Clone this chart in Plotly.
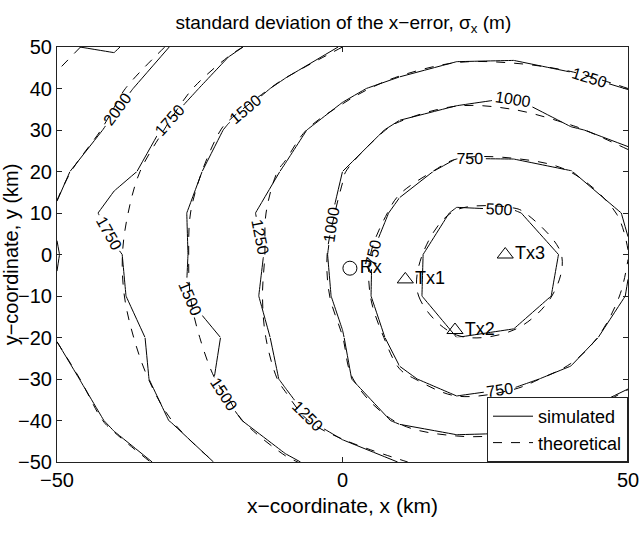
import plotly.graph_objects as go

# grid (km)
x_km = [-50, -40, -30, -20, -10, 0, 10, 20, 30, 40, 50]
y_km = [-50, -40, -30, -20, -10, 0, 10, 20, 30, 40, 50]

# theoretical sigma_x (m), one row per y value (x = -50 ... 50)
theo_y50 = [2320, 2150, 1981, 1788, 1639, 1500, 1425, 1345, 1340, 1370, 1429]
theo_y40 = [2200, 2043, 1826, 1625, 1453, 1318, 1175, 1092, 1109, 1167, 1250]
theo_y30 = [2170, 1949, 1721, 1466, 1317, 1135, 956, 875, 894, 977, 1071]
theo_y20 = [2046, 1860, 1618, 1399, 1226, 1011, 824, 696, 683, 752, 920]
theo_y10 = [1980, 1810, 1566, 1371, 1188, 971, 690, 480, 475, 600, 790]
theo_y0 = [1975, 1783, 1557, 1371, 1182, 933, 560, 410, 400, 520, 745]
theo_ym10 = [1985, 1790, 1568, 1365, 1173, 950, 540, 420, 410, 545, 786]
theo_ym20 = [1990, 1821, 1614, 1386, 1179, 1002, 654, 505, 520, 650, 865]
theo_ym30 = [2084, 1875, 1667, 1450, 1217, 1050, 781, 667, 700, 810, 960]
theo_ym40 = [2168, 1958, 1752, 1558, 1325, 1137, 980, 869, 900, 1015, 1115]
theo_ym50 = [2220, 2110, 1937, 1687, 1531, 1389, 1255, 1220, 1225, 1260, 1300]

# simulated sigma_x (m)
sim_y50 = [2230, 2280, 1990, 1795, 1620, 1490, 1430, 1340, 1355, 1365, 1420]
sim_y40 = [2150, 2060, 1880, 1610, 1460, 1300, 1180, 1085, 1030, 1175, 1255]
sim_y30 = [2160, 1960, 1700, 1480, 1310, 1150, 945, 880, 890, 985, 1050]
sim_y20 = [2050, 1830, 1630, 1390, 1235, 1000, 835, 690, 690, 745, 925]
sim_y10 = [1980, 1660, 1575, 1300, 1195, 960, 700, 470, 485, 600, 770]
sim_y0 = [2010, 1783, 1550, 1380, 1170, 940, 570, 400, 410, 525, 735]
sim_ym10 = [1985, 1800, 1560, 1330, 1180, 955, 545, 430, 405, 550, 760]
sim_ym20 = [1990, 1821, 1690, 1470, 1170, 1010, 660, 500, 525, 640, 870]
sim_ym30 = [2090, 1860, 1680, 1440, 1225, 1040, 790, 660, 710, 800, 965]
sim_ym40 = [2160, 1965, 1740, 1550, 1340, 1130, 975, 880, 895, 1020, 1110]
sim_ym50 = [2215, 2100, 1950, 1680, 1540, 1389, 1245, 1230, 1240, 1265, 1310]

theo_z = [theo_ym50, theo_ym40, theo_ym30, theo_ym20, theo_ym10, theo_y0,
          theo_y10, theo_y20, theo_y30, theo_y40, theo_y50]
sim_z = [sim_ym50, sim_ym40, sim_ym30, sim_ym20, sim_ym10, sim_y0,
         sim_y10, sim_y20, sim_y30, sim_y40, sim_y50]

level_start, level_end, level_step = 500, 2250, 250

# stations
station_names = ["Rx", "Tx1", "Tx2", "Tx3"]
station_x = [1.3, 11, 19.7, 28.5]
station_y = [-3.3, -6, -18.2, 0]
station_symbols = ["circle-open", "triangle-up-open", "triangle-up-open", "triangle-up-open"]

FONT = "Liberation Sans, Arial, Helvetica, sans-serif"

fig = go.Figure()

fig.add_trace(go.Contour(
    x=x_km, y=y_km, z=theo_z,
    contours=dict(coloring="none", start=level_start, end=level_end, size=level_step,
                  showlabels=False),
    line=dict(color="black", width=1, dash="dash", smoothing=1),
    showscale=False, showlegend=False, hoverinfo="skip",
))

# simulated field drawn in adjoining tiles (sharing their border rows/columns),
# so that the inline labels are spread along each line as in the original
col_splits = [(0, 6), (6, 10)]
row_splits = [(0, 3), (3, 7), (7, 10)]
for r0, r1 in row_splits:
    for c0, c1 in col_splits:
        fig.add_trace(go.Contour(
            x=x_km[c0:c1 + 1], y=y_km[r0:r1 + 1],
            z=[row[c0:c1 + 1] for row in sim_z[r0:r1 + 1]],
            contours=dict(coloring="none", start=level_start, end=level_end, size=level_step,
                          showlabels=True, labelformat=".0f",
                          labelfont=dict(family=FONT, size=16, color="black")),
            line=dict(color="black", width=1, dash="solid", smoothing=0),
            showscale=False, showlegend=False, hoverinfo="skip",
        ))

fig.add_trace(go.Scatter(
    x=station_x, y=station_y, mode="markers+text",
    text=station_names, textposition="middle right",
    textfont=dict(family=FONT, size=18, color="black"),
    marker=dict(symbol=station_symbols, size=14, color="black", line=dict(width=1, color="black")),
    showlegend=False, hoverinfo="skip", cliponaxis=False,
))

# legend entries
fig.add_trace(go.Scatter(x=[None], y=[None], mode="lines", name="simulated",
                         line=dict(color="black", width=1, dash="solid")))
fig.add_trace(go.Scatter(x=[None], y=[None], mode="lines", name="theoretical",
                         line=dict(color="black", width=1, dash="dash")))

axis_common = dict(
    showgrid=False, zeroline=False, showline=True, linecolor="#222", linewidth=1,
    mirror="ticks", ticks="inside", ticklen=5, tickcolor="#222", automargin=False,
    ticklabeloverflow="allow",
    tickfont=dict(family=FONT, size=20, color="black"),
)

fig.update_layout(
    width=643, height=535,
    margin=dict(l=57, r=15, t=47, b=73),
    paper_bgcolor="white", plot_bgcolor="white",
    title=dict(text="standard deviation of the x\u2212error, \u03c3<sub>x</sub> (m)",
               x=0.534, xanchor="center", y=0.970, yanchor="top",
               font=dict(family=FONT, size=19, color="black")),
    xaxis=dict(range=[-50, 50], tickvals=[-50, 0, 50],
               title=dict(text="x\u2212coordinate, x (km)", standoff=8,
                          font=dict(family=FONT, size=21, color="black")),
               **axis_common),
    yaxis=dict(range=[-50, 50], dtick=10,
               title=dict(text="y\u2212coordinate, y (km)", standoff=0,
                          font=dict(family=FONT, size=20, color="black")),
               **axis_common),
    legend=dict(x=1, y=0, xanchor="right", yanchor="bottom",
                bgcolor="white", bordercolor="#222", borderwidth=1,
                font=dict(family=FONT, size=18, color="black"),
                tracegroupgap=0, itemwidth=40),
    showlegend=True,
)

# page without the default body margin, so the figure fills the 643x535 window
fig.write_html("out.html", config={"displayModeBar": False},
               post_script="document.body.style.margin='0';")
